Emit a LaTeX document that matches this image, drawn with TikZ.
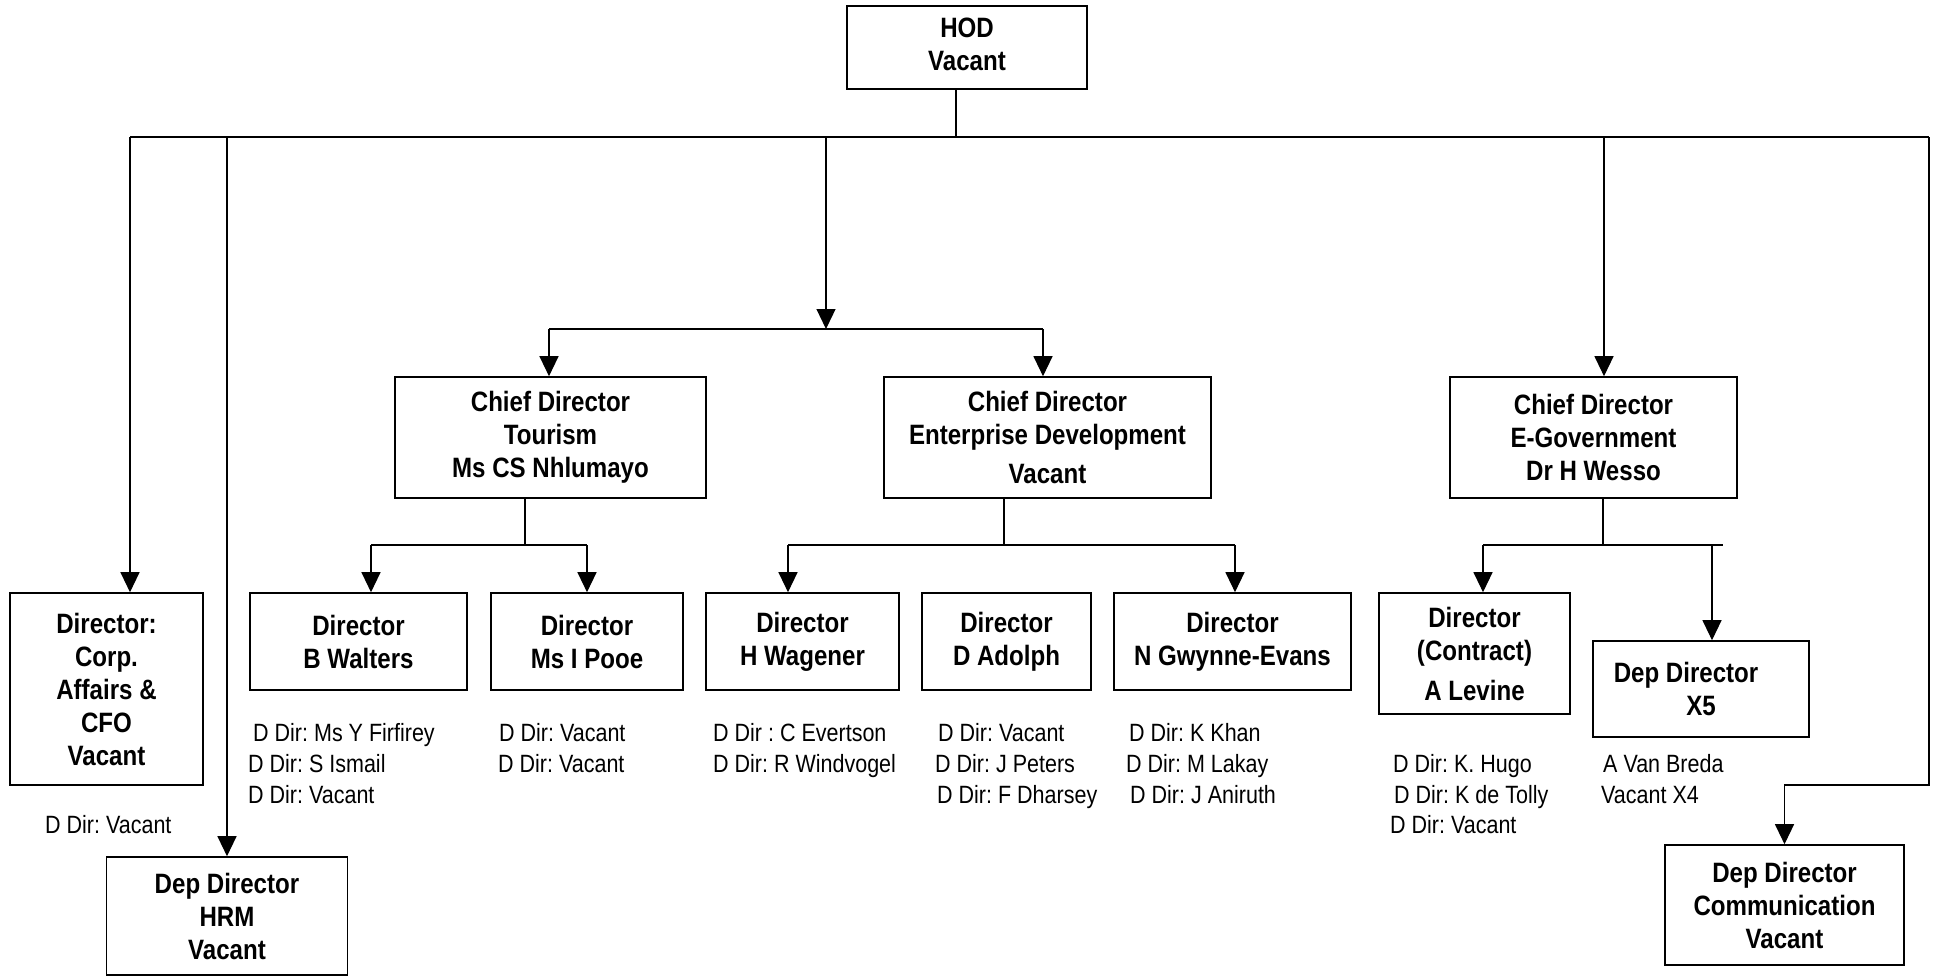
\documentclass[tikz,border=0pt]{standalone}
\usepackage{fontspec}
\setmainfont{Liberation Sans}[FakeStretch=0.86]
\usetikzlibrary{arrows.meta}
\frenchspacing
\begin{document}
\frenchspacing
\begin{tikzpicture}[x=1pt,y=-1pt,
  box/.style={draw, line width=1.6pt, inner sep=0pt, align=center, font=\bfseries\fontsize{28}{33}\selectfont},
  conn/.style={line width=1.2pt},
  arr/.style={conn, -{Triangle[width=19pt,length=20pt]}},
  note/.style={anchor=base west, inner sep=0pt, font=\fontsize{25}{31}\selectfont}]
\useasboundingbox (0,0) rectangle (1935,977);
% boxes
\node[box, minimum width=240pt, minimum height=83pt] (hod) at (967,47.5) {\raisebox{-5pt}{\begin{tabular}{@{}c@{}}HOD\\Vacant\end{tabular}}};
\node[box, minimum width=193pt, minimum height=192pt] (cfo) at (106.5,689) {Director:\\Corp.\\Affairs \&\\CFO\\Vacant};
\node[box, minimum width=241pt, minimum height=118pt] (hrm) at (227,916) {Dep Director\\HRM\\Vacant};
\node[box, minimum width=311pt, minimum height=121pt] (tour) at (550.5,437.5) {Chief Director\\Tourism\\Ms CS Nhlumayo};
\node[box, minimum width=327pt, minimum height=121pt] (ent) at (1047.5,437.5) {Chief Director\\Enterprise Development\\[6pt]Vacant};
\node[box, minimum width=287pt, minimum height=121pt] (egov) at (1593.5,437.5) {Chief Director\\E-Government\\Dr H Wesso};
\node[box, minimum width=217pt, minimum height=97pt] (walt) at (358.5,641.5) {Director\\B Walters};
\node[box, minimum width=192pt, minimum height=97pt] (pooe) at (587,641.5) {Director\\Ms I Pooe};
\node[box, minimum width=193pt, minimum height=97pt] (wag) at (802.5,641.5) {Director\\H Wagener};
\node[box, minimum width=169pt, minimum height=97pt] (ado) at (1006.5,641.5) {Director\\D Adolph};
\node[box, minimum width=237pt, minimum height=97pt] (gwy) at (1232.5,641.5) {Director\\N Gwynne-Evans};
\node[box, minimum width=191pt, minimum height=121pt] (lev) at (1474.5,653.5) {Director\\(Contract)\\[7pt]A Levine};
\node[box, minimum width=216pt, minimum height=96pt] (xfive) at (1701,689) {Dep Director\hspace*{30pt}\\X5};
\node[box, minimum width=239pt, minimum height=120pt] (comm) at (1784.5,905) {Dep Director\\Communication\\Vacant};
% top bus
\coordinate (bL) at (130,137);
\coordinate (bR) at (1929,137);
\coordinate (mid) at (826,137);
\coordinate (mid2) at (826,329);
\coordinate (cc) at (1929,785);
\draw[conn] ([xshift=-11pt]hod.south) -- ([xshift=-11pt]hod.south |- bL);
\draw[conn] (bL) -- (bR);
\draw[arr] (bL) -- (bL |- cfo.north);
\draw[arr] (hrm.north |- bL) -- (hrm.north);
\draw[arr] (mid) -- (mid2);
\draw[conn] ([xshift=-1.5pt]tour.north |- mid2) -- ([xshift=-4.5pt]ent.north |- mid2);
\draw[arr] ([xshift=-1.5pt]tour.north |- mid2) -- ([xshift=-1.5pt]tour.north);
\draw[arr] ([xshift=-4.5pt]ent.north |- mid2) -- ([xshift=-4.5pt]ent.north);
\draw[arr] ([xshift=10.5pt]egov.north |- bL) -- ([xshift=10.5pt]egov.north);
\draw[arr] (bR) -- (cc) -- (comm.north |- cc) -- (comm.north);
% tourism children
\coordinate (tj) at (525,545);
\draw[conn] ([xshift=-25.5pt]tour.south) -- (tj);
\draw[conn] ([xshift=12.5pt]walt.north |- tj) -- (pooe.north |- tj);
\draw[arr] ([xshift=12.5pt]walt.north |- tj) -- ([xshift=12.5pt]walt.north);
\draw[arr] (pooe.north |- tj) -- (pooe.north);
% enterprise children
\coordinate (ej) at (1004,545);
\draw[conn] ([xshift=-43.5pt]ent.south) -- (ej);
\draw[conn] ([xshift=-14.5pt]wag.north |- ej) -- ([xshift=2.5pt]gwy.north |- ej);
\draw[arr] ([xshift=-14.5pt]wag.north |- ej) -- ([xshift=-14.5pt]wag.north);
\draw[arr] ([xshift=2.5pt]gwy.north |- ej) -- ([xshift=2.5pt]gwy.north);
% e-gov children
\coordinate (gj) at (1603,545);
\coordinate (gend) at (1723,545);
\draw[conn] ([xshift=9.5pt]egov.south) -- (gj);
\draw[conn] ([xshift=8.5pt]lev.north |- gj) -- (gend);
\draw[arr] ([xshift=8.5pt]lev.north |- gj) -- ([xshift=8.5pt]lev.north);
\draw[arr] ([xshift=11pt]xfive.north |- gj) -- ([xshift=11pt]xfive.north);
% notes
\node[note] (n1) at (45,833) {D Dir: Vacant};
\node[note] (n2) at (253,741) {D Dir: Ms Y Firfirey};
\node[note] (n3) at (248,772) {D Dir: S Ismail};
\node[note] (n4) at (248,803) {D Dir: Vacant};
\node[note] (n5) at (499,741) {D Dir: Vacant};
\node[note] (n6) at (498,772) {D Dir: Vacant};
\node[note] (n7) at (713,741) {D Dir : C Evertson};
\node[note] (n8) at (713,772) {D Dir: R Windvogel};
\node[note] (n9) at (938,741) {D Dir: Vacant};
\node[note] (n10) at (935,772) {D Dir: J Peters};
\node[note] (n11) at (937,803) {D Dir: F Dharsey};
\node[note] (n12) at (1129,741) {D Dir: K Khan};
\node[note] (n13) at (1126,772) {D Dir: M Lakay};
\node[note] (n14) at (1130,803) {D Dir: J Aniruth};
\node[note] (n15) at (1393,772) {D Dir: K. Hugo};
\node[note] (n16) at (1394,803) {D Dir: K de Tolly};
\node[note] (n17) at (1390,833) {D Dir: Vacant};
\node[note] (n18) at (1603,772) {A Van Breda};
\node[note] (n19) at (1601,803) {Vacant X4};
\end{tikzpicture}
\end{document}
